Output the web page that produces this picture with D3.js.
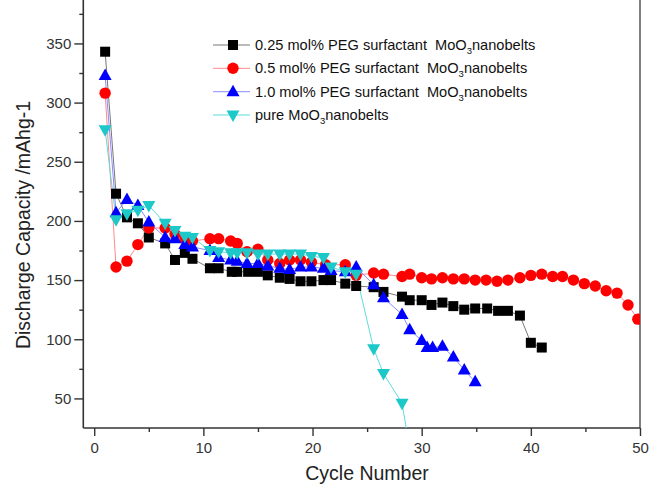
<!DOCTYPE html>
<html><head><meta charset="utf-8">
<script src="https://cdn.jsdelivr.net/npm/d3@7"></script>
<style>body{margin:0;background:#fff}svg{display:block;font-family:Arial,"Liberation Sans",sans-serif}</style>
</head><body><svg id="c" width="649" height="484"></svg>
<script>
// ---- data ----
const seriesNames = ["0.25 mol% PEG surfactant  MoO", "0.5 mol% PEG surfactant  MoO", "1.0 mol% PEG surfactant  MoO", "pure MoO"];
const xTicks = [0, 10, 20, 30, 40, 50];
const yTicks = [50, 100, 150, 200, 250, 300, 350];

const blackCycles = [1,2,3,4,5,6.5,7.4,8.3,9.0,10.6,11.4,12.6,13.1,14.1,15.0,15.9,17.0,17.9,18.9,19.9,21.0,21.7,23.0,24.0,25.6,26.5,28.2,28.9,30.0,30.9,31.9,32.9,33.9,34.9,36.0,37.0,37.9,39.0,40.0,41.0];
const blackValues = [343,223,203,198,186,181,167,173,168,160,160,157,157,157,157,154,152,151,149,149,150,150,147,145,144,140,136,133,133,129,131,128,125,126,126,124,124,120,97,93];

const redCycles = [1,2,3,4,5,6.5,7.4,8.3,9.0,10.6,11.4,12.5,13.1,14.0,15.0,15.9,17.0,17.9,18.9,19.9,21.2,23.0,24.0,25.6,26.5,28.2,28.9,30.0,30.9,31.9,32.9,33.9,34.9,35.9,36.9,37.9,39.0,40.0,41.0,42.0,42.9,43.9,44.9,45.9,46.9,47.9,48.9,49.8];
const redValues = [308,161,166,180,194,194,189,185,183,185,185,183,181,174,176,167,164,167,167,165,163,163,154,156,155,153,155,152,151,152,151,151,150,150,149,150,152,154,155,153,153,150,147,145,141,139,129,117];

const blueCycles = [1,2,3,4,5,6.5,7.4,8.3,9.0,10.6,11.4,12.5,13.1,14.0,15.0,15.9,17.0,17.9,18.9,19.9,21.0,21.7,23.0,24.0,25.6,26.5,28.2,28.9,30.0,30.5,31.0,31.9,32.9,33.9,34.9];
const blueValues = [323,207,218,213,199,186,185,180,178,175,169,167,166,164,164,162,160,159,161,161,160,158,157,161,146,135,121,108,99,93,93,94,85,74,64];

const cyanCycles = [1,2,3,4,5,6.5,7.4,8.3,9.0,10.6,11.4,12.5,13.1,14.0,15.0,15.9,17.0,17.9,18.9,19.9,21.0,21.7,23.0,24.0,25.6,26.5,28.2,28.9];
const cyanValues = [277,201,206,209,213,198,192,187,186,175,174,173,173,173,172,172,172,172,172,170,169,161,157,155,92,71,46,8];

const colors = ["#000000", "#ff0000", "#0000ff", "#1cc8c8"];
const lineColors = ["#777777", "#ff8a8a", "#8a8aff", "#5fdcdc"];

// ---- chart ----
const svg = d3.select("#c");
const L = 83.3, R = 640, T = 0, B = 428;
const x = d3.scaleLinear().domain([-1, 50]).range([L, R]);
const y = d3.scaleLinear().domain([25, 386.7]).range([B, T]);

svg.append("defs").append("clipPath").attr("id", "clip")
  .append("rect").attr("x", L).attr("y", T - 10).attr("width", R - L).attr("height", B - T + 10);

const axisColor = "#333";
// frame
svg.append("line").attr("x1", R).attr("x2", R).attr("y1", 0).attr("y2", B).attr("stroke", "#555").attr("stroke-width", 1.5);

// y axis
const yAxis = d3.axisLeft(y).tickValues(yTicks).tickSize(9).tickPadding(3);
const gy = svg.append("g").attr("transform", `translate(${L},0)`).call(yAxis);
const yMinor = d3.axisLeft(y).tickValues(d3.range(75, 376, 50)).tickSize(4).tickFormat("");
svg.append("g").attr("transform", `translate(${L},0)`).call(yMinor).select(".domain").remove();

// x axis
const xAxis = d3.axisBottom(x).tickValues(xTicks).tickSize(8).tickPadding(6);
const gx = svg.append("g").attr("transform", `translate(0,${B})`).call(xAxis);
const xMinor = d3.axisBottom(x).tickValues(d3.range(5, 50, 10)).tickSize(4).tickFormat("");
svg.append("g").attr("transform", `translate(0,${B})`).call(xMinor).select(".domain").remove();

svg.selectAll(".domain").attr("stroke", axisColor).attr("stroke-width", 1.6);
svg.selectAll(".tick line").attr("stroke", axisColor).attr("stroke-width", 1.4);
svg.selectAll(".tick text").attr("fill", "#333").style("font-size", "15px").style("font-family", "Arial, 'Liberation Sans', sans-serif");
gy.select(".domain").attr("d", `M0,${B}V0`);
gx.select(".domain").attr("d", `M${L},0H${R}`);

// axis titles
svg.append("text").attr("x", 367).attr("y", 480).attr("text-anchor", "middle")
  .attr("fill", "#222").style("font-size", "19.5px").text("Cycle Number");
svg.append("text").attr("transform", "translate(30,225) rotate(-90)").attr("text-anchor", "middle")
  .attr("fill", "#222").style("font-size", "19.5px").text("Discharge Capacity /mAhg-1");

// markers
function marker(sel, i) {
  if (i === 0) sel.append("rect").attr("x", -5).attr("y", -5).attr("width", 10).attr("height", 10).attr("fill", colors[i]);
  else if (i === 1) sel.append("circle").attr("r", 5.7).attr("fill", colors[i]);
  else if (i === 2) sel.append("path").attr("d", "M0,-7L6.5,4.5L-6.5,4.5Z").attr("fill", colors[i]);
  else sel.append("path").attr("d", "M0,7L6.5,-4.5L-6.5,-4.5Z").attr("fill", colors[i]);
}

const allSeries = [
  blackCycles.map((c, k) => [c, blackValues[k]]),
  redCycles.map((c, k) => [c, redValues[k]]),
  blueCycles.map((c, k) => [c, blueValues[k]]),
  cyanCycles.map((c, k) => [c, cyanValues[k]])
];
const plot = svg.append("g").attr("clip-path", "url(#clip)");
const line = d3.line().x(d => x(d[0])).y(d => y(d[1]));
allSeries.forEach((data, i) => {
  plot.append("path").datum(data).attr("d", line).attr("fill", "none").attr("stroke", lineColors[i]).attr("stroke-width", 1);
});
allSeries.forEach((data, i) => {
  plot.append("g").selectAll("g").data(data).join("g")
    .attr("transform", d => `translate(${x(d[0])},${y(d[1])})`)
    .each(function () { marker(d3.select(this), i); });
});

// legend
const legY = [45, 68.3, 91.7, 115];
seriesNames.forEach((name, i) => {
  const g = svg.append("g").attr("transform", `translate(0,${legY[i]})`);
  g.append("line").attr("x1", 213).attr("x2", 250).attr("stroke", lineColors[i]).attr("stroke-width", 1);
  marker(g.append("g").attr("transform", "translate(233,0)"), i);
  const t = g.append("text").attr("x", 255).attr("y", 5).attr("fill", "#111")
    .style("font-size", "14.6px").style("white-space", "pre");
  t.append("tspan").text(name);
  t.append("tspan").attr("dy", 4).style("font-size", "9.5px").text("3");
  t.append("tspan").attr("dy", -4).text("nanobelts");
});
</script></body></html>
